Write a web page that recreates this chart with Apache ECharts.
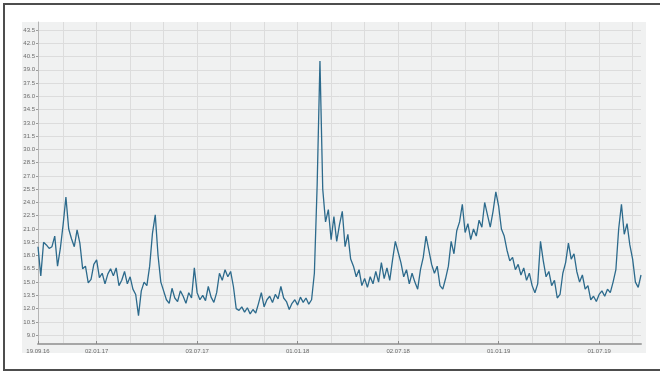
<!DOCTYPE html>
<html>
<head>
<meta charset="utf-8">
<script src="https://cdn.jsdelivr.net/npm/echarts@6/dist/echarts.min.js"></script>
<style>
html,body{margin:0;padding:0;background:#ffffff;}
#chart{width:660px;height:372px;}
</style>
</head>
<body>
<div id="chart"></div>
<script>
// Category dates (sample points along the time axis)
const categories = [
'19.09.16','21.09.16','26.09.16',
'01.10.16','06.10.16','11.10.16','16.10.16','21.10.16','26.10.16',
'01.11.16','06.11.16','11.11.16','16.11.16','21.11.16','26.11.16',
'01.12.16','06.12.16','11.12.16','16.12.16','21.12.16','26.12.16',
'02.01.17','06.01.17','11.01.17','16.01.17','21.01.17','26.01.17',
'01.02.17','06.02.17','11.02.17','16.02.17','21.02.17','26.02.17',
'01.03.17','06.03.17','11.03.17','16.03.17','21.03.17','26.03.17',
'01.04.17','06.04.17','11.04.17','16.04.17','21.04.17','26.04.17',
'01.05.17','06.05.17','11.05.17','16.05.17','21.05.17','26.05.17',
'01.06.17','06.06.17','11.06.17','16.06.17','21.06.17','26.06.17',
'03.07.17','06.07.17','11.07.17','16.07.17','21.07.17','26.07.17',
'01.08.17','06.08.17','11.08.17','16.08.17','21.08.17','26.08.17',
'01.09.17','06.09.17','11.09.17','16.09.17','21.09.17','26.09.17',
'01.10.17','06.10.17','11.10.17','16.10.17','21.10.17','26.10.17',
'01.11.17','06.11.17','11.11.17','16.11.17','21.11.17','26.11.17',
'01.12.17','06.12.17','11.12.17','16.12.17','21.12.17','26.12.17',
'01.01.18','06.01.18','11.01.18','16.01.18','21.01.18','26.01.18',
'01.02.18','06.02.18','11.02.18','16.02.18','21.02.18','26.02.18',
'01.03.18','06.03.18','11.03.18','16.03.18','21.03.18','26.03.18',
'01.04.18','06.04.18','11.04.18','16.04.18','21.04.18','26.04.18',
'01.05.18','06.05.18','11.05.18','16.05.18','21.05.18','26.05.18',
'01.06.18','06.06.18','11.06.18','16.06.18','21.06.18','26.06.18',
'02.07.18','06.07.18','11.07.18','16.07.18','21.07.18','26.07.18',
'01.08.18','06.08.18','11.08.18','16.08.18','21.08.18','26.08.18',
'01.09.18','06.09.18','11.09.18','16.09.18','21.09.18','26.09.18',
'01.10.18','06.10.18','11.10.18','16.10.18','21.10.18','26.10.18',
'01.11.18','06.11.18','11.11.18','16.11.18','21.11.18','26.11.18',
'01.12.18','06.12.18','11.12.18','16.12.18','21.12.18','26.12.18',
'01.01.19','06.01.19','11.01.19','16.01.19','21.01.19','26.01.19',
'01.02.19','06.02.19','11.02.19','16.02.19','21.02.19','26.02.19',
'01.03.19','06.03.19','11.03.19','16.03.19','21.03.19','26.03.19',
'01.04.19','06.04.19','11.04.19','16.04.19','21.04.19','26.04.19',
'01.05.19','06.05.19','11.05.19','16.05.19','21.05.19','26.05.19',
'01.06.19','06.06.19','11.06.19','16.06.19','21.06.19','26.06.19',
'01.07.19','06.07.19','11.07.19','16.07.19','21.07.19','26.07.19',
'01.08.19','06.08.19','11.08.19','16.08.19','21.08.19','26.08.19',
'01.09.19','06.09.19','11.09.19','16.09.19'
];

// Series values
const values = [
19.0,15.7,19.5,19.2,18.8,19.0,20.2,16.8,18.8,21.5,
24.6,21.0,19.9,19.0,20.9,19.4,16.5,16.8,14.9,15.3,
17.0,17.5,15.5,16.0,14.8,15.9,16.5,15.7,16.6,14.6,
15.2,16.2,14.8,15.6,14.2,13.6,11.2,14.0,15.0,14.6,
16.8,20.5,22.6,18.0,15.0,14.0,13.0,12.6,14.3,13.2,
12.8,14.0,13.4,12.6,13.8,13.2,16.6,13.8,13.0,13.5,
12.9,14.5,13.3,12.7,13.8,16.0,15.2,16.4,15.6,16.2,
14.5,12.0,11.8,12.2,11.6,12.1,11.4,11.9,11.5,12.6,
13.8,12.2,13.0,13.4,12.7,13.6,13.1,14.5,13.2,12.8,
11.9,12.6,13.0,12.4,13.3,12.7,13.2,12.5,13.0,16.0,
26.0,40.0,25.5,21.8,23.2,19.8,22.4,19.6,21.5,23.0,
19.0,20.4,17.6,16.8,15.6,16.4,14.6,15.4,14.4,15.6,
14.8,16.2,15.0,17.2,15.4,16.6,15.2,17.5,19.6,18.4,
17.2,15.6,16.4,14.8,16.0,15.0,14.2,16.4,17.8,20.2,
18.6,17.0,16.0,16.8,14.6,14.2,15.4,16.8,19.6,18.2,
20.8,21.8,23.8,20.6,21.6,19.8,21.0,20.2,22.0,21.2,
24.0,22.6,21.2,23.0,25.2,23.6,21.0,20.2,18.6,17.4,
17.8,16.4,17.0,15.8,16.6,15.2,16.0,14.6,13.8,14.8,
19.6,17.4,15.6,16.2,14.6,15.2,13.2,13.6,16.0,17.2,
19.4,17.6,18.2,16.2,15.0,15.8,14.2,14.6,13.0,13.4,
12.8,13.6,14.0,13.4,14.2,13.8,15.0,16.4,21.0,23.8,
20.4,21.6,19.2,17.6,15.0,14.4,15.8
];

// X tick labels (shown dates)
const xTickLabels = ['19.09.16','02.01.17','03.07.17','01.01.18','02.07.18','01.01.19','01.07.19'];

// Vertical grid line dates (every two months)
const xGridDates = ['01.11.16','02.01.17','01.03.17','01.05.17','03.07.17','01.09.17','01.11.17',
  '01.01.18','01.03.18','01.05.18','02.07.18','01.09.18','01.11.18',
  '01.01.19','01.03.19','01.05.19','01.07.19','01.09.19'];

// Y tick labels
const yTicks = [9.0,10.5,12.0,13.5,15.0,16.5,18.0,19.5,21.0,22.5,24.0,25.5,27.0,28.5,30.0,31.5,33.0,34.5,36.0,37.5,39.0,40.5,42.0,43.5];

const chart = echarts.init(document.getElementById('chart'), null, {renderer:'canvas'});
const FONT = 'Liberation Sans, Arial, sans-serif';

chart.setOption({
  animation: false,
  backgroundColor: '#ffffff',
  graphic: [
    {type:'rect', silent:true, z:-10, shape:{x:4, y:4, width:700, height:366},
     style:{fill:'#ffffff', stroke:'#4d4d4d', lineWidth:2}},
    {type:'rect', silent:true, z:-9, shape:{x:22, y:22, width:624, height:331},
     style:{fill:'#f0f1f1'}}
  ],
  grid: {left:38, right:19, top:22, bottom:28, containLabel:false},
  xAxis: {
    type:'category',
    data: categories,
    boundaryGap:false,
    axisLine:{show:true, lineStyle:{color:'#a6a6a6', width:2}},
    axisTick:{show:true, inside:true, length:3, lineStyle:{color:'#8a8a8a'},
      interval:(i, v) => xTickLabels.indexOf(v) >= 0},
    axisLabel:{show:true, fontSize:6, color:'#6b6b6b', fontFamily:FONT, margin:4,
      interval:(i, v) => xTickLabels.indexOf(v) >= 0},
    splitLine:{show:true, lineStyle:{color:'#dcdcdc', width:1},
      interval:(i, v) => xGridDates.indexOf(v) >= 0}
  },
  yAxis: {
    type:'value',
    min:8, max:44.4,
    axisLine:{show:true, lineStyle:{color:'#b5b5b5', width:1}},
    axisTick:{show:true, length:2, lineStyle:{color:'#9a9a9a'}, customValues: yTicks},
    axisLabel:{show:true, fontSize:6, color:'#6b6b6b', fontFamily:FONT, margin:3,
      customValues: yTicks, formatter:(v) => v.toFixed(1)},
    splitLine:{show:true, lineStyle:{color:'#dcdcdc', width:1}}
  },
  series: [{
    type:'line',
    data: values,
    symbol:'none',
    smooth:false,
    lineStyle:{color:'#2c6a8c', width:1.3},
    z:5
  }]
});
</script>
</body>
</html>
